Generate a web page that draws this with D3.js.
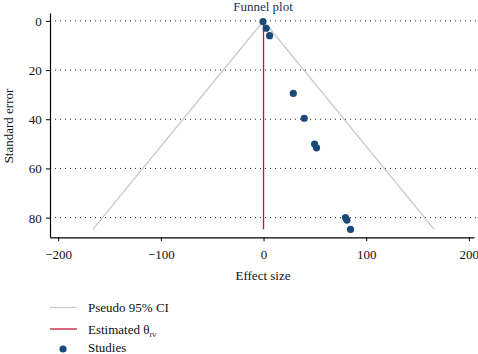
<!DOCTYPE html>
<html>
<head>
<meta charset="utf-8">
<script src="https://cdn.jsdelivr.net/npm/d3@7"></script>
<style>
  body { margin: 0; background: #fff; }
  svg { display: block; font-family: "Liberation Serif", "DejaVu Serif", serif; }
</style>
</head>
<body>
<svg id="chart" width="478" height="354"></svg>
<script>
const EFFECTS = [-0.5, 2.6, 5.9, 29, 39.6, 49.7, 51.6, 79.8, 81.2, 84.7];
const SE = [0.3, 3, 6, 29.5, 39.6, 50.1, 51.6, 80, 81, 84.8];
const X_TICKS = [-200, -100, 0, 100, 200];
const Y_TICKS = [0, 20, 40, 60, 80];
const THETA = 0;
const MAX_SE = 84.8;

const NAVY = "#1b4a78";
const RED = "#c8143c";
const GREY = "#c8c8c8";

let svg = d3.select("#chart");

let xScale = d3.scaleLinear()
    .domain([-208, 205])
    .range([50, 474]);

let yScale = d3.scaleLinear()
    .domain([-3.2, 88])
    .range([13, 237.3]);

// dotted gridlines
svg.append("g")
    .selectAll("line")
    .data(Y_TICKS)
    .enter()
    .append("line")
    .attr("x1", 55)
    .attr("x2", 478)
    .attr("y1", d => yScale(d))
    .attr("y2", d => yScale(d))
    .attr("stroke", "#222")
    .attr("stroke-width", 1)
    .attr("stroke-dasharray", "1,4");

// axes
let xAxis = svg.append("g")
    .attr("transform", "translate(0," + yScale(88) + ")")
    .call(d3.axisBottom(xScale).tickValues(X_TICKS).tickSize(4).tickSizeOuter(0)
        .tickFormat(d => d < 0 ? "\u2212" + Math.abs(d) : d));

let yAxis = svg.append("g")
    .attr("transform", "translate(50,0)")
    .call(d3.axisLeft(yScale).tickValues(Y_TICKS).tickSize(4).tickSizeOuter(0));

[xAxis, yAxis].forEach(function (g) {
    g.select(".domain").attr("stroke", "#000").attr("stroke-width", 1.2);
    g.selectAll(".tick line").attr("stroke", "#000");
    g.selectAll("text")
        .attr("fill", "#111")
        .style("font-size", "13px")
        .style("font-family", "Liberation Serif, serif");
});
xAxis.selectAll("text").attr("dy", "1.1em");
yAxis.selectAll("text").attr("dx", "-0.1em").attr("dy", "0.35em");

// funnel (pseudo 95% CI)
let funnel = [[THETA - 1.96 * MAX_SE, MAX_SE], [THETA, 0], [THETA + 1.96 * MAX_SE, MAX_SE]];
svg.append("path")
    .datum(funnel)
    .attr("d", d3.line().x(d => xScale(d[0])).y(d => yScale(d[1])))
    .attr("fill", "none")
    .attr("stroke", GREY)
    .attr("stroke-width", 1.3);

// estimated theta
svg.append("line")
    .attr("x1", xScale(THETA))
    .attr("x2", xScale(THETA))
    .attr("y1", yScale(0))
    .attr("y2", yScale(MAX_SE))
    .attr("stroke", RED)
    .attr("stroke-width", 1.3);

// studies
svg.append("g")
    .selectAll("circle")
    .data(EFFECTS)
    .enter()
    .append("circle")
    .attr("cx", d => xScale(d))
    .attr("cy", (d, i) => yScale(SE[i]))
    .attr("r", 3.6)
    .attr("fill", NAVY);

// titles
svg.append("text")
    .attr("x", 263)
    .attr("y", 11)
    .attr("text-anchor", "middle")
    .attr("fill", "#1f3060")
    .style("font-size", "13px")
    .text("Funnel plot");

svg.append("text")
    .attr("x", 263)
    .attr("y", 280)
    .attr("text-anchor", "middle")
    .attr("fill", "#111")
    .style("font-size", "13px")
    .text("Effect size");

svg.append("text")
    .attr("transform", "translate(13,126) rotate(-90)")
    .attr("text-anchor", "middle")
    .attr("fill", "#111")
    .style("font-size", "13px")
    .text("Standard error");

// legend
let legend = svg.append("g");
legend.append("line")
    .attr("x1", 50).attr("x2", 77).attr("y1", 307.5).attr("y2", 307.5)
    .attr("stroke", GREY).attr("stroke-width", 1.3);
legend.append("text")
    .attr("x", 88).attr("y", 312)
    .attr("fill", "#111").style("font-size", "13px")
    .text("Pseudo 95% CI");
legend.append("line")
    .attr("x1", 50).attr("x2", 77).attr("y1", 329).attr("y2", 329)
    .attr("stroke", RED).attr("stroke-width", 1.3);
let est = legend.append("text")
    .attr("x", 88).attr("y", 334)
    .attr("fill", "#111").style("font-size", "13px");
est.append("tspan").text("Estimated \u03b8");
est.append("tspan").attr("dy", 3).style("font-size", "7px").text("IV");
legend.append("circle")
    .attr("cx", 63).attr("cy", 349).attr("r", 3.6)
    .attr("fill", NAVY);
legend.append("text")
    .attr("x", 88).attr("y", 352)
    .attr("fill", "#111").style("font-size", "13px")
    .text("Studies");
</script>
</body>
</html>
